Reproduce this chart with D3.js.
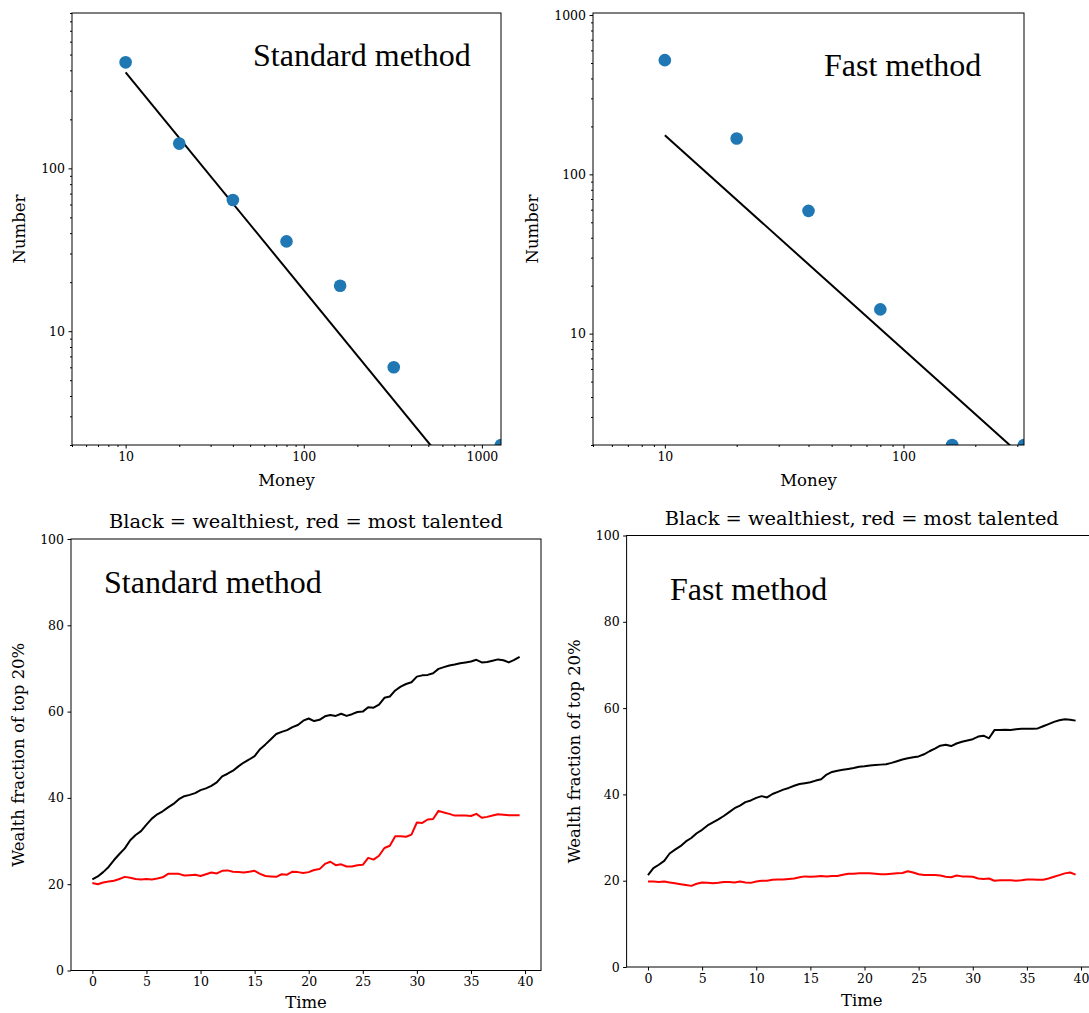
<!DOCTYPE html>
<html><head><meta charset="utf-8">
<script src="https://cdn.jsdelivr.net/npm/d3@7"></script>
<style>body{margin:0;background:#fff} svg{display:block}</style>
</head><body><svg id="c" width="1089" height="1013"></svg>
<script>
// ---- Data ----
const moneyStd = [10, 20, 40, 80, 160, 320, 1280];
const countStd = [448, 142, 64, 35.6, 19, 6, 2];
const fitStdX = [10, 1280];
const fitStdY = [389, 0.59];

const moneyFast = [10, 20, 40, 80, 160, 320];
const countFast = [521, 168, 59, 14.2, 2, 2];
const fitFastX = [10, 320];
const fitFastY = [176, 1.66];

const time = d3.range(0, 40, 0.5);
const stdWealthiest = [21.1,21.8,22.8,24.0,25.6,27.0,28.3,30.2,31.4,32.3,33.8,35.2,36.2,36.9,37.8,38.6,39.7,40.4,40.7,41.1,
41.8,42.2,42.8,43.6,45.0,45.6,46.3,47.3,48.2,48.9,49.7,51.3,52.4,53.6,54.8,55.3,55.7,56.4,56.9,57.9,
58.4,57.8,58.1,58.9,59.2,59.0,59.5,59.0,59.4,59.9,60.0,61.0,60.9,61.6,63.2,63.5,64.9,65.8,66.4,66.8,
68.1,68.4,68.5,68.9,69.9,70.3,70.7,70.9,71.2,71.4,71.6,72.0,71.4,71.5,71.8,72.1,71.9,71.4,72.0,72.7];
const stdTalented = [20.3,20.0,20.4,20.6,20.8,21.2,21.7,21.5,21.2,21.1,21.2,21.1,21.3,21.6,22.4,22.4,22.4,22.0,22.1,22.2,
21.9,22.3,22.7,22.5,23.1,23.2,22.9,22.8,22.7,22.9,23.1,22.4,21.9,21.8,21.7,22.3,22.2,22.9,22.8,22.6,
22.8,23.3,23.5,24.7,25.2,24.4,24.6,24.1,24.1,24.4,24.5,26.1,25.7,26.6,28.4,28.9,31.1,31.1,31.0,31.5,
34.3,34.2,35.0,35.1,37.0,36.6,36.3,35.9,35.9,35.9,35.8,36.3,35.4,35.6,35.9,36.2,36.1,36.0,36.0,36.0];
const fastWealthiest = [21.3,22.9,23.7,24.6,26.3,27.2,28.0,29.1,29.9,31.0,31.8,32.8,33.5,34.2,35.0,35.9,36.8,37.4,38.2,38.6,
39.2,39.6,39.3,40.1,40.6,41.1,41.5,42.0,42.4,42.6,42.8,43.2,43.5,44.6,45.2,45.5,45.7,45.9,46.1,46.4,
46.5,46.7,46.8,46.9,47.0,47.3,47.7,48.1,48.4,48.6,48.8,49.3,50.0,50.6,51.3,51.5,51.2,51.8,52.2,52.5,
52.8,53.4,53.6,53.0,54.9,54.9,55.0,54.9,55.1,55.2,55.2,55.2,55.3,55.8,56.3,56.8,57.2,57.4,57.3,57.1];
const fastTalented = [19.8,19.8,19.7,19.8,19.6,19.4,19.2,19.0,18.8,19.3,19.6,19.5,19.4,19.5,19.7,19.7,19.6,19.8,19.6,19.5,
19.8,20.0,20.0,20.2,20.3,20.3,20.4,20.5,20.8,21.0,20.9,21.0,21.1,21.0,21.1,21.1,21.4,21.6,21.6,21.7,
21.7,21.7,21.6,21.5,21.5,21.6,21.7,21.8,22.2,21.9,21.5,21.3,21.3,21.3,21.2,20.9,20.8,21.2,21.0,21.0,
20.9,20.5,20.4,20.5,20.0,20.1,20.1,20.1,20.0,20.1,20.3,20.3,20.2,20.2,20.5,20.9,21.3,21.7,21.9,21.4];

const timeTicks = [0, 5, 10, 15, 20, 25, 30, 35, 40];
const pctTicks = [0, 20, 40, 60, 80, 100];

// ---- Drawing ----
const svg = d3.select("#c");
const SERIF = "'DejaVu Serif', serif";
const TIMES = "'Liberation Serif', 'Times New Roman', serif";
let clipId = 0;

function frame(g, L, R, T, B) {
  g.append("rect").attr("x", L).attr("y", T).attr("width", R - L).attr("height", B - T)
    .attr("fill", "none").attr("stroke", "#000").attr("stroke-width", 1);
}
function styleAxis(sel) {
  sel.selectAll(".domain").remove();
  sel.selectAll("line").attr("stroke", "#000").attr("stroke-width", 1);
  sel.selectAll("text").attr("font-family", SERIF).attr("font-size", 12.5).attr("fill", "#000");
}
function clip(L, R, T, B) {
  const id = "clip" + (clipId++);
  svg.append("clipPath").attr("id", id).append("rect")
    .attr("x", L).attr("y", T).attr("width", R - L).attr("height", B - T);
  return "url(#" + id + ")";
}
function minorLog(lo, hi) {
  const out = [];
  for (let e = -1; e < 5; e++) for (let m = 2; m < 10; m++) {
    const v = m * Math.pow(10, e);
    if (v >= lo && v <= hi) out.push(v);
  }
  return out;
}

function logPanel(o) {
  const g = svg.append("g");
  const x = d3.scaleLog().domain(o.xdom).range([o.L, o.R]);
  const y = d3.scaleLog().domain(o.ydom).range([o.B, o.T]);
  const cp = clip(o.L, o.R, o.T, o.B);
  const fit = o.fitX.map((v, i) => [v, o.fitY[i]]);
  g.append("path").attr("clip-path", cp).datum(fit)
    .attr("d", d3.line().x(d => x(d[0])).y(d => y(d[1])))
    .attr("fill", "none").attr("stroke", "#000").attr("stroke-width", 2);
  g.append("g").attr("clip-path", cp).selectAll("circle").data(o.xs).join("circle")
    .attr("cx", d => x(d)).attr("cy", (d, i) => y(o.ys[i])).attr("r", 6.3)
    .attr("fill", "#1f77b4");
  frame(g, o.L, o.R, o.T, o.B);
  const xa = g.append("g").attr("transform", `translate(0,${o.B})`)
    .call(d3.axisBottom(x).tickValues(o.xticks).tickFormat(d3.format("d")).tickSize(3.5).tickPadding(3.5));
  styleAxis(xa);
  const xm = g.append("g").attr("transform", `translate(0,${o.B})`)
    .call(d3.axisBottom(x).tickValues(minorLog(o.xdom[0], o.xdom[1])).tickFormat("").tickSize(2));
  styleAxis(xm);
  const ya = g.append("g").attr("transform", `translate(${o.L},0)`)
    .call(d3.axisLeft(y).tickValues(o.yticks).tickFormat(d3.format("d")).tickSize(3.5).tickPadding(3.5));
  styleAxis(ya);
  const ym = g.append("g").attr("transform", `translate(${o.L},0)`)
    .call(d3.axisLeft(y).tickValues(minorLog(o.ydom[0], o.ydom[1])).tickFormat("").tickSize(2));
  styleAxis(ym);
  g.append("text").attr("x", (o.L + o.R) / 2).attr("y", o.B + 41).attr("text-anchor", "middle")
    .attr("font-family", SERIF).attr("font-size", 16.5).attr("fill", "#000").text("Money");
  g.append("text").attr("transform", `translate(${o.ylabX},${(o.T + o.B) / 2}) rotate(-90)`)
    .attr("text-anchor", "middle").attr("font-family", SERIF).attr("font-size", 16.5).attr("fill", "#000").text("Number");
  g.append("text").attr("x", o.annX).attr("y", o.annY).attr("font-family", TIMES)
    .attr("font-size", 32).attr("fill", "#000").text(o.ann);
}

function linePanel(o) {
  const g = svg.append("g");
  const x = d3.scaleLinear().domain([-1.975, 41.475]).range([o.L, o.R]);
  const y = d3.scaleLinear().domain([0, 100]).range([o.B, o.T]);
  const ln = d3.line().x((d, i) => x(time[i])).y(d => y(d));
  g.append("path").datum(o.black).attr("d", ln).attr("fill", "none")
    .attr("stroke", "#000").attr("stroke-width", 2).attr("stroke-linejoin", "round");
  g.append("path").datum(o.red).attr("d", ln).attr("fill", "none")
    .attr("stroke", "#ff0000").attr("stroke-width", 2).attr("stroke-linejoin", "round");
  frame(g, o.L, o.R, o.T, o.B);
  const xa = g.append("g").attr("transform", `translate(0,${o.B})`)
    .call(d3.axisBottom(x).tickValues(timeTicks).tickSize(3.5).tickPadding(3.5));
  styleAxis(xa);
  const ya = g.append("g").attr("transform", `translate(${o.L},0)`)
    .call(d3.axisLeft(y).tickValues(pctTicks).tickSize(3.5).tickPadding(3.5));
  styleAxis(ya);
  g.append("text").attr("x", (o.L + o.R) / 2).attr("y", o.B + o.timeOff).attr("text-anchor", "middle")
    .attr("font-family", SERIF).attr("font-size", 16.5).attr("fill", "#000").text("Time");
  g.append("text").attr("transform", `translate(${o.ylabX},${(o.T + o.B) / 2}) rotate(-90)`)
    .attr("text-anchor", "middle").attr("font-family", SERIF).attr("font-size", 16.5).attr("fill", "#000")
    .text("Wealth fraction of top 20%");
  g.append("text").attr("x", (o.L + o.R) / 2).attr("y", o.T - 11).attr("text-anchor", "middle")
    .attr("font-family", SERIF).attr("font-size", 19.4).attr("fill", "#000")
    .text("Black = wealthiest, red = most talented");
  g.append("text").attr("x", o.annX).attr("y", o.annY).attr("font-family", TIMES)
    .attr("font-size", 32).attr("fill", "#000").text(o.ann);
}

logPanel({L: 72, R: 501, T: 13, B: 445, xdom: [5, 1280], ydom: [2, 900],
  xs: moneyStd, ys: countStd, fitX: fitStdX, fitY: fitStdY,
  xticks: [10, 100, 1000], yticks: [10, 100], ylabX: 25,
  ann: "Standard method", annX: 253, annY: 66});
logPanel({L: 593, R: 1024, T: 13, B: 445, xdom: [5, 320], ydom: [2, 1030],
  xs: moneyFast, ys: countFast, fitX: fitFastX, fitY: fitFastY,
  xticks: [10, 100], yticks: [10, 100, 1000], ylabX: 538,
  ann: "Fast method", annX: 824, annY: 76});
linePanel({L: 71, R: 541, T: 539, B: 970.5, black: stdWealthiest, red: stdTalented,
  ylabX: 24, ann: "Standard method", annX: 104, annY: 593, timeOff: 37.5});
linePanel({L: 626.6, R: 1097, T: 535.5, B: 967, black: fastWealthiest, red: fastTalented,
  ylabX: 580, ann: "Fast method", annX: 670, annY: 600, timeOff: 39});
</script></body></html>
